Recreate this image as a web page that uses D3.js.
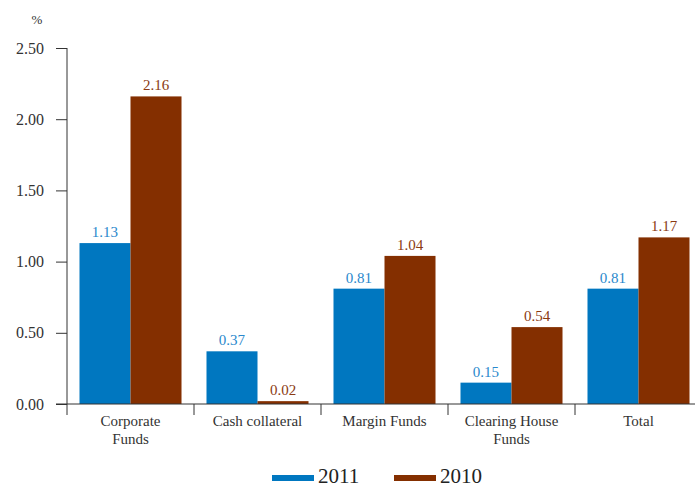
<!DOCTYPE html>
<html>
<head>
<meta charset="utf-8">
<script src="https://cdn.jsdelivr.net/npm/d3@7"></script>
<style>
  html, body { margin: 0; padding: 0; background: #fff; }
  svg { display: block; font-family: "Liberation Serif", "DejaVu Serif", serif; }
</style>
</head>
<body>
<svg id="chart" width="695" height="488"></svg>
<script>
// Return rates by fund type, in percent
const categories = [["Corporate", "Funds"], ["Cash collateral"], ["Margin Funds"], ["Clearing House", "Funds"], ["Total"]];
const series = ["2011", "2010"];
const values2011 = [1.13, 0.37, 0.81, 0.15, 0.81];
const values2010 = [2.16, 0.02, 1.04, 0.54, 1.17];
const yTicks = [0, 0.5, 1.0, 1.5, 2.0, 2.5];

const barColors = { "2011": "#0077c0", "2010": "#842f00" };
const labelColors = { "2011": "#2a88cc", "2010": "#8a3a12" };

const svg = d3.select("#chart");
const margin = { left: 67, top: 48 };
const bandW = 127;

const x = d3.scaleBand()
  .domain(d3.range(categories.length))
  .range([margin.left, margin.left + bandW * categories.length]);

const xInner = d3.scaleBand()
  .domain(series)
  .range([0, x.bandwidth()])
  .paddingOuter(0.245)
  .paddingInner(0);

const y = d3.scaleLinear().domain([0, 2.5]).range([404, margin.top]);

const axisColor = "#333";

// Y axis
const yAxis = svg.append("g")
  .attr("transform", `translate(${margin.left},0)`)
  .call(d3.axisLeft(y).tickValues(yTicks).tickFormat(d3.format(".2f")).tickSize(11).tickPadding(12));
yAxis.select(".domain").attr("stroke", axisColor).attr("d", `M0,${y(2.5)}V${y(0)}`);
yAxis.selectAll(".tick line").attr("stroke", axisColor);
yAxis.selectAll(".tick text")
  .attr("fill", "#333")
  .style("font-size", "16px")
  .style("font-family", "Liberation Serif, serif");

svg.append("text")
  .attr("x", 37).attr("y", 24)
  .attr("text-anchor", "middle")
  .attr("fill", "#333")
  .style("font-size", "13px")
  .text("%");

// Bars
const rows = categories.map((c, i) => ({ i, vals: { "2011": values2011[i], "2010": values2010[i] } }));

const groups = svg.append("g").selectAll("g")
  .data(rows).join("g")
  .attr("transform", d => `translate(${x(d.i)},0)`);

groups.selectAll("rect")
  .data(d => series.map(s => ({ s, v: d.vals[s] })))
  .join("rect")
  .attr("x", d => xInner(d.s))
  .attr("width", xInner.bandwidth())
  .attr("y", d => y(d.v))
  .attr("height", d => y(0) - y(d.v))
  .attr("fill", d => barColors[d.s]);

groups.selectAll("text.val")
  .data(d => series.map(s => ({ s, v: d.vals[s] })))
  .join("text")
  .attr("class", "val")
  .attr("x", d => xInner(d.s) + xInner.bandwidth() / 2)
  .attr("y", d => y(d.v) - 6)
  .attr("text-anchor", "middle")
  .attr("fill", d => labelColors[d.s])
  .style("font-size", "15px")
  .text(d => d.v.toFixed(2));

// X axis baseline and category separators
svg.append("line")
  .attr("x1", 56).attr("x2", 695)
  .attr("y1", y(0)).attr("y2", y(0))
  .attr("stroke", axisColor);

svg.append("g").selectAll("line")
  .data(d3.range(categories.length))
  .join("line")
  .attr("x1", d => x(d)).attr("x2", d => x(d))
  .attr("y1", y(0)).attr("y2", y(0) + 11)
  .attr("stroke", axisColor);

svg.append("g").selectAll("text")
  .data(categories.map((c, i) => ({ c, i })))
  .join("text")
  .attr("x", d => x(d.i) + x.bandwidth() / 2)
  .attr("y", 426)
  .attr("text-anchor", "middle")
  .attr("fill", "#333")
  .style("font-size", "15px")
  .selectAll("tspan")
  .data(d => d.c)
  .join("tspan")
  .attr("x", function () { return d3.select(this.parentNode).attr("x"); })
  .attr("dy", (d, k) => k === 0 ? 0 : 18)
  .text(d => d);

// Legend
const legend = svg.append("g");
const legendItems = [{ s: "2011", x: 272 }, { s: "2010", x: 394 }];
legend.selectAll("line")
  .data(legendItems).join("line")
  .attr("x1", d => d.x).attr("x2", d => d.x + 42)
  .attr("y1", 478).attr("y2", 478)
  .attr("stroke", d => barColors[d.s])
  .attr("stroke-width", 6);
legend.selectAll("text")
  .data(legendItems).join("text")
  .attr("x", d => d.x + 46)
  .attr("y", 483)
  .attr("fill", "#222")
  .style("font-size", "21px")
  .text(d => d.s);
</script>
</body>
</html>
